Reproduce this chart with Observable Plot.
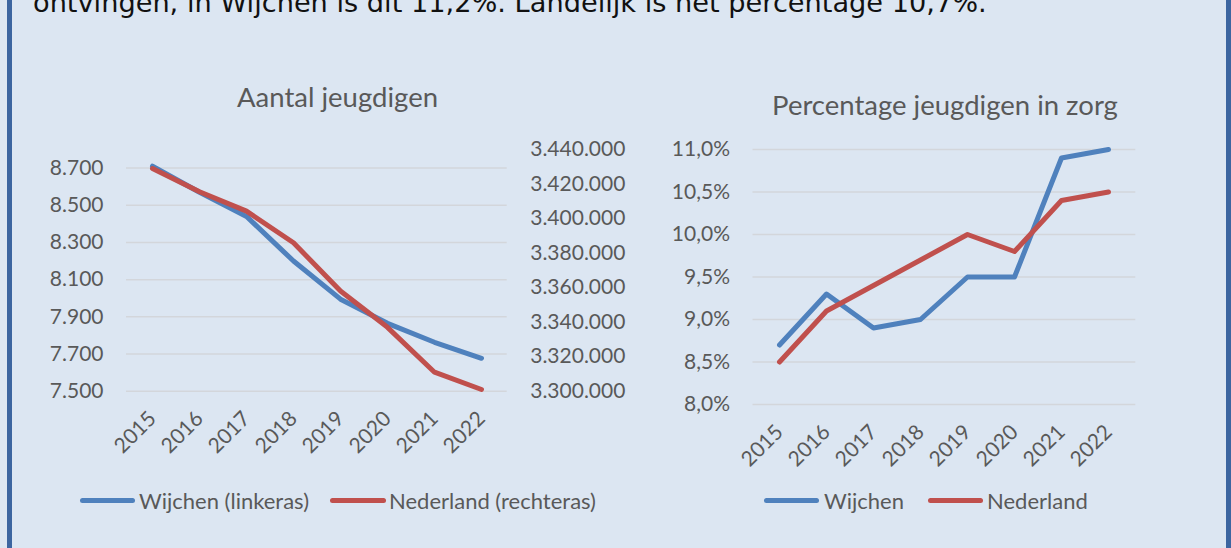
<!DOCTYPE html>
<html>
<head>
<meta charset="utf-8">
<script src="https://cdn.jsdelivr.net/npm/d3@7"></script>
<script src="https://cdn.jsdelivr.net/npm/@observablehq/plot@0.6"></script>
<style>
  html, body { margin: 0; padding: 0; }
  body { width: 1231px; height: 548px; background: #dce6f2; position: relative; overflow: hidden; }
  .frame { position: absolute; left: 7px; top: -10px; width: 1214px; height: 570px; border-left: 5px solid #3c65a0; border-right: 5px solid #3c65a0; }
  .intro { position: absolute; left: 33px; top: -7.4px; font-family: "DejaVu Sans", Verdana, sans-serif; font-size: 27.2px; line-height: 20px; color: #111; white-space: nowrap; }
  .title { position: absolute; font-family: Lato, sans-serif; font-size: 27.5px; line-height: 26px; color: #595959; white-space: nowrap; transform: translateX(-50%); }
  .chart { position: absolute; }
  .lg-line { position: absolute; height: 5px; border-radius: 3px; }
  .lg-text { position: absolute; font-family: Lato, sans-serif; font-size: 22px; line-height: 21px; color: #595959; white-space: nowrap; }
</style>
</head>
<body>
<div class="frame"></div>
<div class="intro">ontvingen, in Wijchen is dit 11,2%. Landelijk is het percentage 10,7%.</div>
<div class="title" style="left:337.5px; top:84px;">Aantal jeugdigen</div>
<div class="title" style="left:945px; top:92px;">Percentage jeugdigen in zorg</div>
<div id="left-base" class="chart" style="left:0px; top:130px;"></div>
<div id="left-over" class="chart" style="left:0px; top:130px;"></div>
<div id="right" class="chart" style="left:640px; top:130px;"></div>

<div class="lg-line" style="left:80px; top:498px; width:55px; background:#4f81bd;"></div>
<div class="lg-text" style="left:139px; top:489.5px;">Wijchen (linkeras)</div>
<div class="lg-line" style="left:330px; top:498px; width:56px; background:#c0504d;"></div>
<div class="lg-text" style="left:389px; top:489.5px;">Nederland (rechteras)</div>
<div class="lg-line" style="left:764px; top:498px; width:55px; background:#4f81bd;"></div>
<div class="lg-text" style="left:824px; top:489.5px;">Wijchen</div>
<div class="lg-line" style="left:928px; top:498px; width:55px; background:#c0504d;"></div>
<div class="lg-text" style="left:987px; top:489.5px;">Nederland</div>

<script>
// ---- data ----
const years = ["2015", "2016", "2017", "2018", "2019", "2020", "2021", "2022"];
const wijchenAantal = [8710, 8570, 8440, 8200, 7995, 7865, 7763, 7677];
const nederlandAantal = [3429000, 3415500, 3404300, 3386000, 3358000, 3337000, 3311000, 3301000];
const wijchenPct = [8.7, 9.3, 8.9, 9.0, 9.5, 9.5, 10.9, 11.0];
const nederlandPct = [8.5, 9.1, 9.4, 9.7, 10.0, 9.8, 10.4, 10.5];
const leftTicks = [7500, 7700, 7900, 8100, 8300, 8500, 8700];
const rightTicks = [3300000, 3320000, 3340000, 3360000, 3380000, 3400000, 3420000, 3440000];
const pctTicks = [8, 8.5, 9, 9.5, 10, 10.5, 11];

const aantalRows = years.map((y, i) => ({year: y, wijchen: wijchenAantal[i], nederland: nederlandAantal[i]}));
const pctRows = years.map((y, i) => ({year: y, wijchen: wijchenPct[i], nederland: nederlandPct[i]}));

const nl = d3.formatLocale({decimal: ",", thousands: ".", grouping: [3], currency: ["€ ", ""]});
const fmtInt = nl.format(",.0f");
const fmtPct = d => nl.format(".1f")(d) + "%";

const BLUE = "#4f81bd", RED = "#c0504d", GRID = "#d3d6db", TXT = "#595959";
const common = {
  style: {background: "transparent", fontFamily: "Lato, sans-serif", fontSize: "21px", color: TXT, overflow: "visible"}
};
const lineOpts = {strokeWidth: 5, strokeLinecap: "round", strokeLinejoin: "round"};

// ---- left chart (base: Wijchen on left axis) ----
const W1 = 620, H1 = 340;
const leftGeom = {width: W1, height: H1, marginTop: 19, marginBottom: 79.3, marginLeft: 126, marginRight: 113.3};
const leftBase = Plot.plot({
  ...common, ...leftGeom,
  x: {type: "point", domain: years, padding: 0.5},
  y: {domain: [7500, 8800]},
  marks: [
    Plot.ruleY(leftTicks, {stroke: GRID, strokeWidth: 1.5}),
    Plot.axisY(leftTicks, {tickFormat: fmtInt, tickSize: 0, tickPadding: 23, fill: TXT, label: null}),
    Plot.axisX({tickRotate: -45, tickSize: 0, tickPadding: 24, fill: TXT, label: null}),
    Plot.line(aantalRows, {x: "year", y: "wijchen", stroke: BLUE, ...lineOpts})
  ]
});
document.getElementById("left-base").append(leftBase);

// ---- left chart overlay (Nederland on right axis) ----
const leftOver = Plot.plot({
  ...common, ...leftGeom,
  x: {type: "point", domain: years, padding: 0.5, axis: null},
  y: {domain: [3300000, 3440000]},
  marks: [
    Plot.axisY(rightTicks, {anchor: "right", tickFormat: fmtInt, tickSize: 0, tickPadding: 23, fill: TXT, label: null}),
    Plot.line(aantalRows, {x: "year", y: "nederland", stroke: RED, ...lineOpts})
  ]
});
document.getElementById("left-over").append(leftOver);

// ---- right chart ----
const rightChart = Plot.plot({
  ...common,
  width: 591, height: 340, marginTop: 19, marginBottom: 66, marginLeft: 112.5, marginRight: 95.7,
  x: {type: "point", domain: years, padding: 0.5},
  y: {domain: [8, 11]},
  marks: [
    Plot.ruleY(pctTicks, {stroke: GRID, strokeWidth: 1.5}),
    Plot.axisY(pctTicks, {tickFormat: fmtPct, tickSize: 0, tickPadding: 23, fill: TXT, label: null}),
    Plot.axisX({tickRotate: -45, tickSize: 0, tickPadding: 24, fill: TXT, label: null}),
    Plot.line(pctRows, {x: "year", y: "wijchen", stroke: BLUE, ...lineOpts}),
    Plot.line(pctRows, {x: "year", y: "nederland", stroke: RED, ...lineOpts})
  ]
});
document.getElementById("right").append(rightChart);
</script>
</body>
</html>
